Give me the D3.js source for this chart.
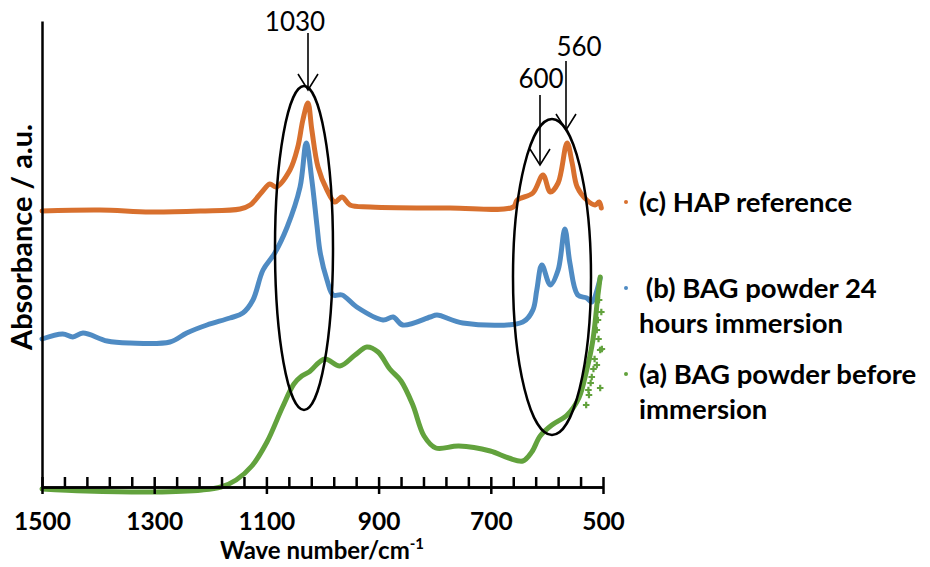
<!DOCTYPE html>
<html>
<head>
<meta charset="utf-8">
<script src="https://cdn.jsdelivr.net/npm/d3@7"></script>
<style>
  body { margin: 0; background: #fff; }
  svg text { font-family: Lato, "Open Sans", sans-serif; fill: #000; }
</style>
</head>
<body>
<div id="viz"></div>
<script>
// spectra: [wave number (cm-1), absorbance (a.u., offset)]
const hapSpectrum = [
  [1500, 276], [1397, 277], [1307, 275], [1218, 276], [1147, 278], [1129, 282],
  [1108, 295], [1094, 303], [1083, 300], [1058, 317], [1044, 340], [1035, 367],
  [1026, 384], [1019, 357], [1008, 320], [992, 297], [978, 285], [965, 290],
  [951, 282], [915, 280], [773, 279], [660, 280], [653, 287], [625, 294],
  [607, 312], [594, 295], [580, 304], [564, 344], [555, 324], [546, 300],
  [529, 287], [514, 282], [507, 285], [503, 279]
];
const bagImmersedSpectrum = [
  [1500, 148], [1463, 153], [1445, 150], [1427, 154], [1384, 146], [1343, 144],
  [1272, 145], [1242, 154], [1206, 162], [1165, 169], [1142, 174], [1124, 187],
  [1106, 217], [1085, 234], [1063, 260], [1040, 300], [1029, 344], [1019, 307],
  [1010, 262], [1004, 234], [992, 207], [981, 192], [965, 192], [939, 180],
  [892, 167], [874, 170], [857, 162], [808, 170], [796, 172], [750, 164],
  [643, 165], [625, 177], [618, 197], [609, 222], [594, 202], [580, 217],
  [568, 258], [559, 224], [545, 192], [529, 189], [520, 185], [505, 209]
];
const bagBeforeSpectrum = [
  [1500, -2], [1422, -4], [1300, -5], [1215, -3], [1181, 0], [1154, 7],
  [1126, 21], [1099, 45], [1072, 79], [1051, 103], [1037, 111], [1024, 115],
  [996, 128], [969, 121], [942, 132], [921, 140], [901, 135], [880, 118],
  [860, 106], [839, 82], [819, 51], [798, 39], [757, 41], [701, 36],
  [668, 29], [643, 26], [627, 35], [612, 51], [591, 62], [564, 72],
  [543, 89], [529, 117], [518, 147], [509, 192], [505, 210]
];
// noisy points at the low wave number end of (a)
const bagBeforeNoise = [
  [511, 157], [505, 137], [511, 122], [505, 99], [520, 110], [502, 138],
  [507, 187], [509, 167], [525, 92], [530, 82], [515, 128], [522, 104],
  [503, 175], [508, 148], [517, 118], [526, 97]
];

const seriesNames = ["(c) HAP reference", " (b) BAG powder 24|hours immersion", "(a) BAG powder before|immersion"];
const seriesColors = ["#d8702e", "#4f8bc3", "#62a23d"];
const majorTicks = [1500, 1300, 1100, 900, 700, 500];
const minorTicks = d3.range(500, 1501, 40);
const peakLabels = ["1030", "600", "560"];

const svg = d3.select("#viz").append("svg")
  .attr("width", 930)
  .attr("height", 567);

const x = d3.scaleLinear().domain([1500, 500]).range([42, 603]);
const y = d3.scaleLinear().domain([0, 466]).range([487, 21]);

const path = d3.line()
  .x(d => x(d[0]))
  .y(d => y(d[1]))
  .curve(d3.curveCatmullRom.alpha(0.5));

const spectra = [hapSpectrum, bagImmersedSpectrum, bagBeforeSpectrum];

// curves
svg.append("g")
  .selectAll("path")
  .data(spectra)
  .enter().append("path")
  .attr("d", d => path(d))
  .attr("fill", "none")
  .attr("stroke", (d, i) => seriesColors[i])
  .attr("stroke-width", 5)
  .attr("stroke-linejoin", "round")
  .attr("stroke-linecap", "round");

svg.append("g")
  .selectAll("path")
  .data(bagBeforeNoise)
  .enter().append("path")
  .attr("d", d3.symbol().type(d3.symbolCross).size(24))
  .attr("transform", d => `translate(${x(d[0])},${y(d[1])})`)
  .attr("fill", seriesColors[2]);

// axes
svg.append("g")
  .attr("transform", `translate(0,${y(0)})`)
  .call(d3.axisBottom(x).tickValues(minorTicks).tickSize(-10).tickFormat("").tickSizeOuter(0));

const majorAxis = svg.append("g")
  .attr("transform", `translate(0,${y(0)})`)
  .call(d3.axisBottom(x).tickValues(majorTicks).tickSize(7).tickFormat(d3.format("d")).tickSizeOuter(0));

svg.append("g")
  .attr("transform", `translate(${x(1500)},0)`)
  .call(d3.axisLeft(y).tickValues([]).tickSizeOuter(0));

svg.selectAll(".domain, .tick line")
  .attr("stroke", "#000")
  .attr("stroke-width", 2.5);

majorAxis.selectAll("text")
  .attr("y", 43)
  .attr("dy", 0)
  .style("font-size", "24.5px")
  .style("font-weight", "bold");

// axis titles
const xTitle = svg.append("text")
  .attr("x", 322)
  .attr("y", 559)
  .attr("text-anchor", "middle")
  .style("font-size", "24px")
  .style("font-weight", "bold");
xTitle.append("tspan").text("Wave number/cm");
xTitle.append("tspan").attr("dy", -10).style("font-size", "15px").text("-1");

svg.append("text")
  .attr("transform", "translate(32,237) rotate(-90)")
  .attr("text-anchor", "middle")
  .style("font-size", "29px")
  .style("font-weight", "bold")
  .text("Absorbance / a.u.");

// legend
const legendY = [202, 288, 374];
seriesNames.forEach((name, i) => {
  svg.append("circle")
    .attr("cx", 626)
    .attr("cy", legendY[i])
    .attr("r", 2)
    .attr("fill", seriesColors[i]);
  const t = svg.append("text")
    .attr("x", 639)
    .attr("y", legendY[i] + 10)
    .style("font-size", "27.5px")
    .style("font-weight", "bold")
    .style("white-space", "pre");
  name.split("|").forEach((part, j) => {
    t.append("tspan").attr("x", 639).attr("dy", j === 0 ? 0 : 35).text(part);
  });
});

// annotations: ellipses and arrows
const ellipses = [
  { cx: 304, cy: 248, rx: 29, ry: 162 },
  { cx: 552, cy: 277, rx: 39, ry: 158 }
];
svg.append("g")
  .selectAll("ellipse")
  .data(ellipses)
  .enter().append("ellipse")
  .attr("cx", d => d.cx)
  .attr("cy", d => d.cy)
  .attr("rx", d => d.rx)
  .attr("ry", d => d.ry)
  .attr("fill", "none")
  .attr("stroke", "#000")
  .attr("stroke-width", 2.5);

const arrows = [
  { x: 308, y1: 33, y2: 90, tx: 295, ty: 31 },
  { x: 540, y1: 95, y2: 165, tx: 541, ty: 88 },
  { x: 566, y1: 61, y2: 130, tx: 579, ty: 56 }
];
arrows.forEach((a, i) => {
  const g = svg.append("g").attr("stroke", "#000").attr("stroke-width", 1.6).attr("fill", "none");
  g.append("line").attr("x1", a.x).attr("y1", a.y1).attr("x2", a.x).attr("y2", a.y2);
  g.append("polyline").attr("points", `${a.x - 10},${a.y2 - 16} ${a.x},${a.y2} ${a.x + 10},${a.y2 - 16}`);
  svg.append("text")
    .attr("x", a.tx)
    .attr("y", a.ty)
    .attr("text-anchor", "middle")
    .style("font-size", "26px")
    .text(peakLabels[i]);
});
</script>
</body>
</html>
